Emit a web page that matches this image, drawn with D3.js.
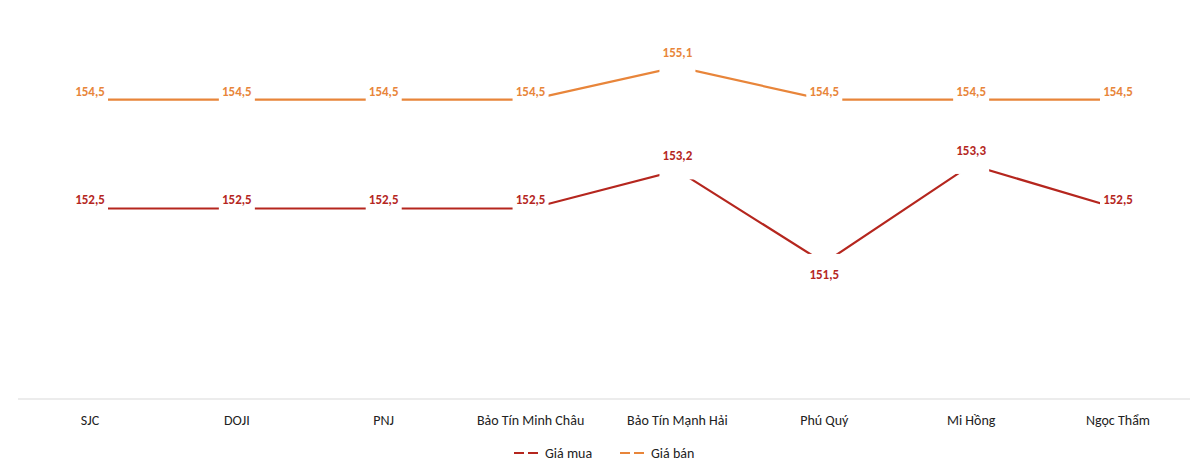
<!DOCTYPE html>
<html><head><meta charset="utf-8">
<script src="https://cdn.jsdelivr.net/npm/d3@7"></script>
<style>body{margin:0;background:#fff}svg{font-family:Calibri,"Liberation Sans",Arial,sans-serif}</style>
</head><body><svg id="c" width="1200" height="468"></svg>
<script>
var categories = ['SJC', 'DOJI', 'PNJ', 'Bảo Tín Minh Châu', 'Bảo Tín Mạnh Hải', 'Phú Quý', 'Mi Hồng', 'Ngọc Thẩm'];
var buyValues = [152.5, 152.5, 152.5, 152.5, 153.2, 151.5, 153.3, 152.5];
var sellValues = [154.5, 154.5, 154.5, 154.5, 155.1, 154.5, 154.5, 154.5];
var seriesNames = ['Giá mua', 'Giá bán'];
var colors = ['#b5261e', '#e8853a'];

var svg = d3.select('#c');
var x = d3.scalePoint().domain(categories).range([90, 1118]);
var y = d3.scaleLinear().domain([149, 156.33]).range([399, 0]);
var fmt = function(v) { return d3.format('.1f')(v).replace('.', ','); };

svg.append('line').attr('x1', 18).attr('x2', 1190).attr('y1', 399).attr('y2', 399)
  .attr('stroke', '#d9d9d9');
svg.selectAll('.cat').data(categories).enter().append('text')
  .attr('x', function(d) { return x(d); }).attr('y', 425)
  .attr('text-anchor', 'middle').attr('font-size', 14).attr('fill', '#222')
  .text(function(d) { return d; });

var line = d3.line().x(function(d, i) { return x(categories[i]); }).y(function(d) { return y(d); });

[buyValues, sellValues].forEach(function(vals, s) {
  svg.append('path').datum(vals).attr('d', line).attr('fill', 'none')
    .attr('stroke', colors[s]).attr('stroke-width', 2.2);
  var g = svg.append('g');
  vals.forEach(function(v, i) {
    var prev = i > 0 ? vals[i - 1] : v, next = i < vals.length - 1 ? vals[i + 1] : v;
    var isMin = v < prev && v < next;
    var isMax = v > prev && v > next;
    var dy = isMin ? 12 : (isMax ? -14 : -8);
    var px = x(categories[i]), py = y(v);
    g.append('rect').attr('x', px - 18).attr('y', Math.min(py, py + dy) - 9)
      .attr('width', 36).attr('height', Math.abs(dy) + 18).attr('fill', '#fff');
    g.append('text').attr('x', px).attr('y', py + dy + 4)
      .attr('text-anchor', 'middle').attr('font-size', 13).attr('font-weight', 'bold')
      .attr('fill', colors[s]).text(fmt(v));
  });
});

var lg = svg.append('g').attr('transform', 'translate(514,453)');
seriesNames.forEach(function(n, i) {
  var o = i * 106;
  lg.append('line').attr('x1', o).attr('x2', o + 26).attr('y1', 0).attr('y2', 0)
    .attr('stroke', colors[i]).attr('stroke-width', 2.2).attr('stroke-dasharray', '10,4');
  lg.append('text').attr('x', o + 31).attr('y', 5).attr('font-size', 14).attr('fill', '#222').text(n);
});
</script></body></html>
